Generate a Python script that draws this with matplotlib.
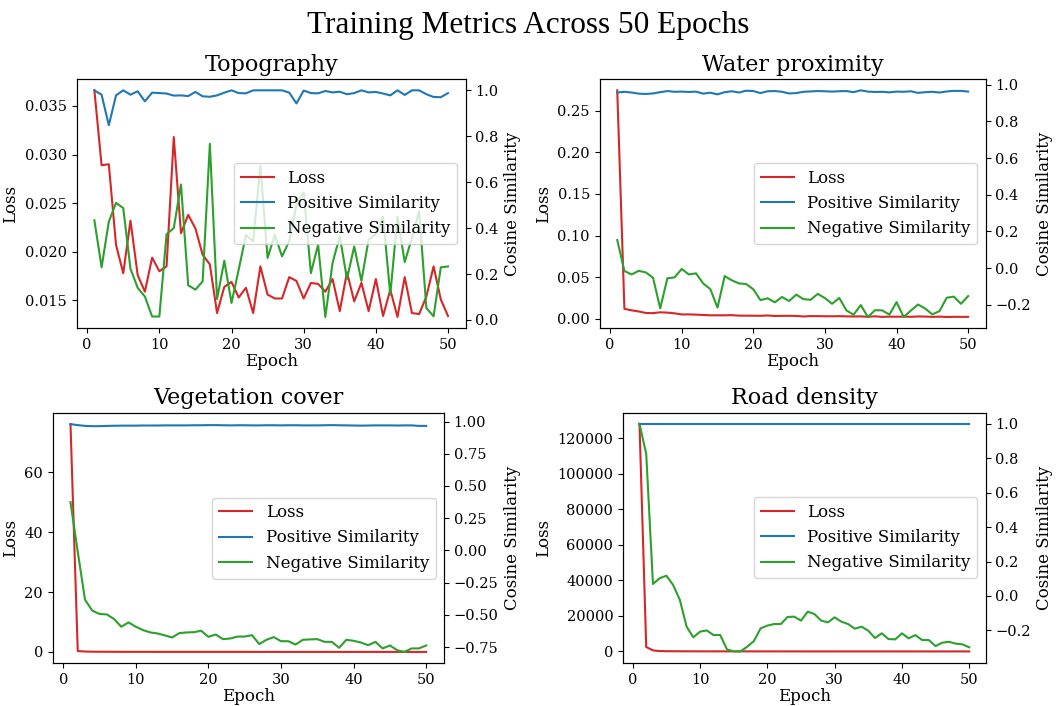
import matplotlib
matplotlib.use('Agg')
import matplotlib.pyplot as plt
import numpy as np

plt.rcParams['font.family'] = 'DejaVu Serif'

epochs = np.arange(1, 51)

# Topography
topo_loss = [0.0366, 0.0289, 0.0290, 0.0207, 0.0178, 0.0232, 0.0176, 0.0159, 0.0194, 0.0180,
             0.0185, 0.0318, 0.0219, 0.0238, 0.0224, 0.0197, 0.0187, 0.0137, 0.0164, 0.0169,
             0.0153, 0.0163, 0.0137, 0.0185, 0.0156, 0.0152, 0.0152, 0.0174, 0.0170, 0.0152,
             0.0168, 0.0167, 0.0159, 0.0172, 0.0139, 0.0179, 0.0149, 0.0168, 0.0139, 0.0172,
             0.0134, 0.0161, 0.0133, 0.0174, 0.0137, 0.0136, 0.0154, 0.0185, 0.0151, 0.0134]
topo_pos = [1.000, 0.981, 0.848, 0.978, 1.000, 0.981, 0.996, 0.952, 0.990, 0.988,
            0.986, 0.977, 0.978, 0.975, 0.993, 0.974, 0.972, 0.978, 0.990, 1.000,
            0.988, 0.987, 1.000, 1.000, 1.000, 1.000, 1.000, 0.990, 0.943, 0.999,
            0.988, 0.987, 0.997, 0.991, 0.994, 0.983, 0.988, 1.000, 0.991, 0.993,
            0.986, 0.978, 1.000, 0.980, 1.000, 1.000, 0.983, 0.971, 0.970, 0.988]
topo_neg = [0.434, 0.229, 0.428, 0.510, 0.487, 0.223, 0.140, 0.102, 0.015, 0.015,
            0.373, 0.400, 0.590, 0.151, 0.132, 0.168, 0.767, 0.091, 0.258, 0.074,
            0.220, 0.370, 0.342, 0.672, 0.270, 0.371, 0.277, 0.343, 0.500, 0.555,
            0.204, 0.328, 0.013, 0.248, 0.365, 0.178, 0.320, 0.170, 0.350, 0.374,
            0.450, 0.110, 0.450, 0.252, 0.357, 0.473, 0.052, 0.016, 0.229, 0.233]

# Water proximity
water_loss = [0.2747, 0.0118, 0.0100, 0.0086, 0.0068, 0.0066, 0.0076, 0.0072, 0.0064, 0.0050,
              0.0051, 0.0048, 0.0044, 0.0040, 0.0040, 0.0040, 0.0042, 0.0036, 0.0036, 0.0035,
              0.0034, 0.0038, 0.0032, 0.0033, 0.0034, 0.0032, 0.0026, 0.0031, 0.0030, 0.0029,
              0.0028, 0.0030, 0.0027, 0.0026, 0.0027, 0.0022, 0.0028, 0.0021, 0.0024, 0.0023,
              0.0024, 0.0022, 0.0026, 0.0025, 0.0021, 0.0024, 0.0020, 0.0022, 0.0021, 0.0022]
water_pos = [0.958, 0.962, 0.958, 0.952, 0.950, 0.953, 0.960, 0.966, 0.962, 0.963,
             0.961, 0.963, 0.952, 0.957, 0.948, 0.960, 0.965, 0.958, 0.968, 0.966,
             0.955, 0.965, 0.966, 0.962, 0.953, 0.955, 0.962, 0.964, 0.966, 0.965,
             0.963, 0.965, 0.966, 0.960, 0.970, 0.963, 0.961, 0.962, 0.959, 0.963,
             0.962, 0.965, 0.956, 0.960, 0.962, 0.958, 0.964, 0.967, 0.967, 0.963]
water_neg = [0.153, -0.016, -0.035, -0.015, -0.024, -0.053, -0.220, -0.056, -0.051, -0.005,
             -0.035, -0.029, -0.084, -0.115, -0.216, -0.044, -0.067, -0.084, -0.087, -0.116,
             -0.175, -0.165, -0.187, -0.158, -0.180, -0.145, -0.170, -0.173, -0.141, -0.164,
             -0.195, -0.163, -0.231, -0.255, -0.202, -0.267, -0.230, -0.231, -0.254, -0.186,
             -0.267, -0.232, -0.199, -0.221, -0.253, -0.235, -0.162, -0.156, -0.195, -0.153]

# Vegetation cover
veg_loss = [76.0, 0.30, 0.15, 0.09, 0.07, 0.06, 0.05, 0.05, 0.04, 0.04,
            0.04, 0.04, 0.03, 0.03, 0.03, 0.03, 0.03, 0.03, 0.03, 0.03,
            0.03, 0.03, 0.03, 0.03, 0.03, 0.03, 0.02, 0.02, 0.02, 0.02,
            0.02, 0.02, 0.02, 0.02, 0.02, 0.02, 0.02, 0.02, 0.02, 0.02,
            0.02, 0.02, 0.02, 0.02, 0.02, 0.02, 0.02, 0.02, 0.02, 0.02]
veg_pos = [0.980, 0.972, 0.966, 0.964, 0.964, 0.966, 0.967, 0.968, 0.968, 0.968,
           0.969, 0.969, 0.969, 0.970, 0.970, 0.970, 0.970, 0.971, 0.971, 0.972,
           0.972, 0.971, 0.970, 0.971, 0.971, 0.970, 0.970, 0.971, 0.971, 0.970,
           0.971, 0.971, 0.970, 0.970, 0.970, 0.971, 0.972, 0.971, 0.970, 0.969,
           0.968, 0.969, 0.970, 0.970, 0.970, 0.969, 0.970, 0.970, 0.966, 0.966]
veg_neg = [0.375, -0.010, -0.382, -0.467, -0.493, -0.496, -0.532, -0.592, -0.558, -0.592,
           -0.618, -0.636, -0.644, -0.659, -0.675, -0.641, -0.636, -0.634, -0.623, -0.670,
           -0.652, -0.688, -0.683, -0.668, -0.668, -0.657, -0.726, -0.693, -0.672, -0.704,
           -0.704, -0.730, -0.693, -0.690, -0.688, -0.709, -0.709, -0.755, -0.693, -0.701,
           -0.714, -0.735, -0.709, -0.760, -0.737, -0.774, -0.787, -0.760, -0.760, -0.737]

# Road density
road_loss = [128000, 2500, 600, 200, 120, 100, 90, 80, 70, 60,
             55, 50, 45, 40, 40, 35, 35, 30, 30, 30,
             28, 26, 25, 24, 23, 22, 21, 20, 20, 19,
             18, 18, 17, 17, 16, 16, 15, 15, 15, 14,
             14, 14, 13, 13, 13, 12, 12, 12, 12, 11]
road_pos = [0.999] * 50
road_neg = [1.000, 0.826, 0.070, 0.103, 0.118, 0.064, -0.023, -0.178, -0.240, -0.207,
            -0.200, -0.227, -0.227, -0.310, -0.322, -0.322, -0.295, -0.262, -0.188, -0.172,
            -0.163, -0.163, -0.122, -0.120, -0.143, -0.091, -0.105, -0.143, -0.153, -0.124,
            -0.149, -0.163, -0.190, -0.178, -0.202, -0.244, -0.217, -0.250, -0.252, -0.217,
            -0.246, -0.227, -0.256, -0.256, -0.291, -0.271, -0.266, -0.277, -0.281, -0.298]

titles = ['Topography', 'Water proximity', 'Vegetation cover', 'Road density']
losses = [topo_loss, water_loss, veg_loss, road_loss]
positives = [topo_pos, water_pos, veg_pos, road_pos]
negatives = [topo_neg, water_neg, veg_neg, road_neg]

# axes boxes in pixels: left, top, right, bottom
boxes = [(76.7, 79, 465.7, 328.3), (599.7, 79, 985.7, 328.3),
         (52.7, 412.7, 444, 663.3), (623, 412.5, 985.7, 662.8)]

W, H = 1056, 706
fig = plt.figure(figsize=(W / 100, H / 100), dpi=100)

for i in range(4):
    l, t, r, b = boxes[i]
    ax = fig.add_axes([l / W, 1 - b / H, (r - l) / W, (b - t) / H])
    ax2 = ax.twinx()
    l1, = ax.plot(epochs, losses[i], color='tab:red', label='Loss')
    l2, = ax2.plot(epochs, positives[i], color='tab:blue', label='Positive Similarity')
    l3, = ax2.plot(epochs, negatives[i], color='tab:green', label='Negative Similarity')
    ax.set_title(titles[i], fontsize=16)
    ax.set_xlabel('Epoch', fontsize=12, labelpad=1)
    ax.set_ylabel('Loss', fontsize=12)
    ax2.set_ylabel('Cosine Similarity', fontsize=12)
    ax.tick_params(labelsize=10.5)
    ax2.tick_params(labelsize=10.5)
    ax2.legend(handles=[l1, l2, l3], loc='center right', fontsize=12)

fig.suptitle('Training Metrics Across 50 Epochs', fontsize=22.5,
             family='Liberation Serif', y=0.985)

fig.savefig('out.png', dpi=100)
